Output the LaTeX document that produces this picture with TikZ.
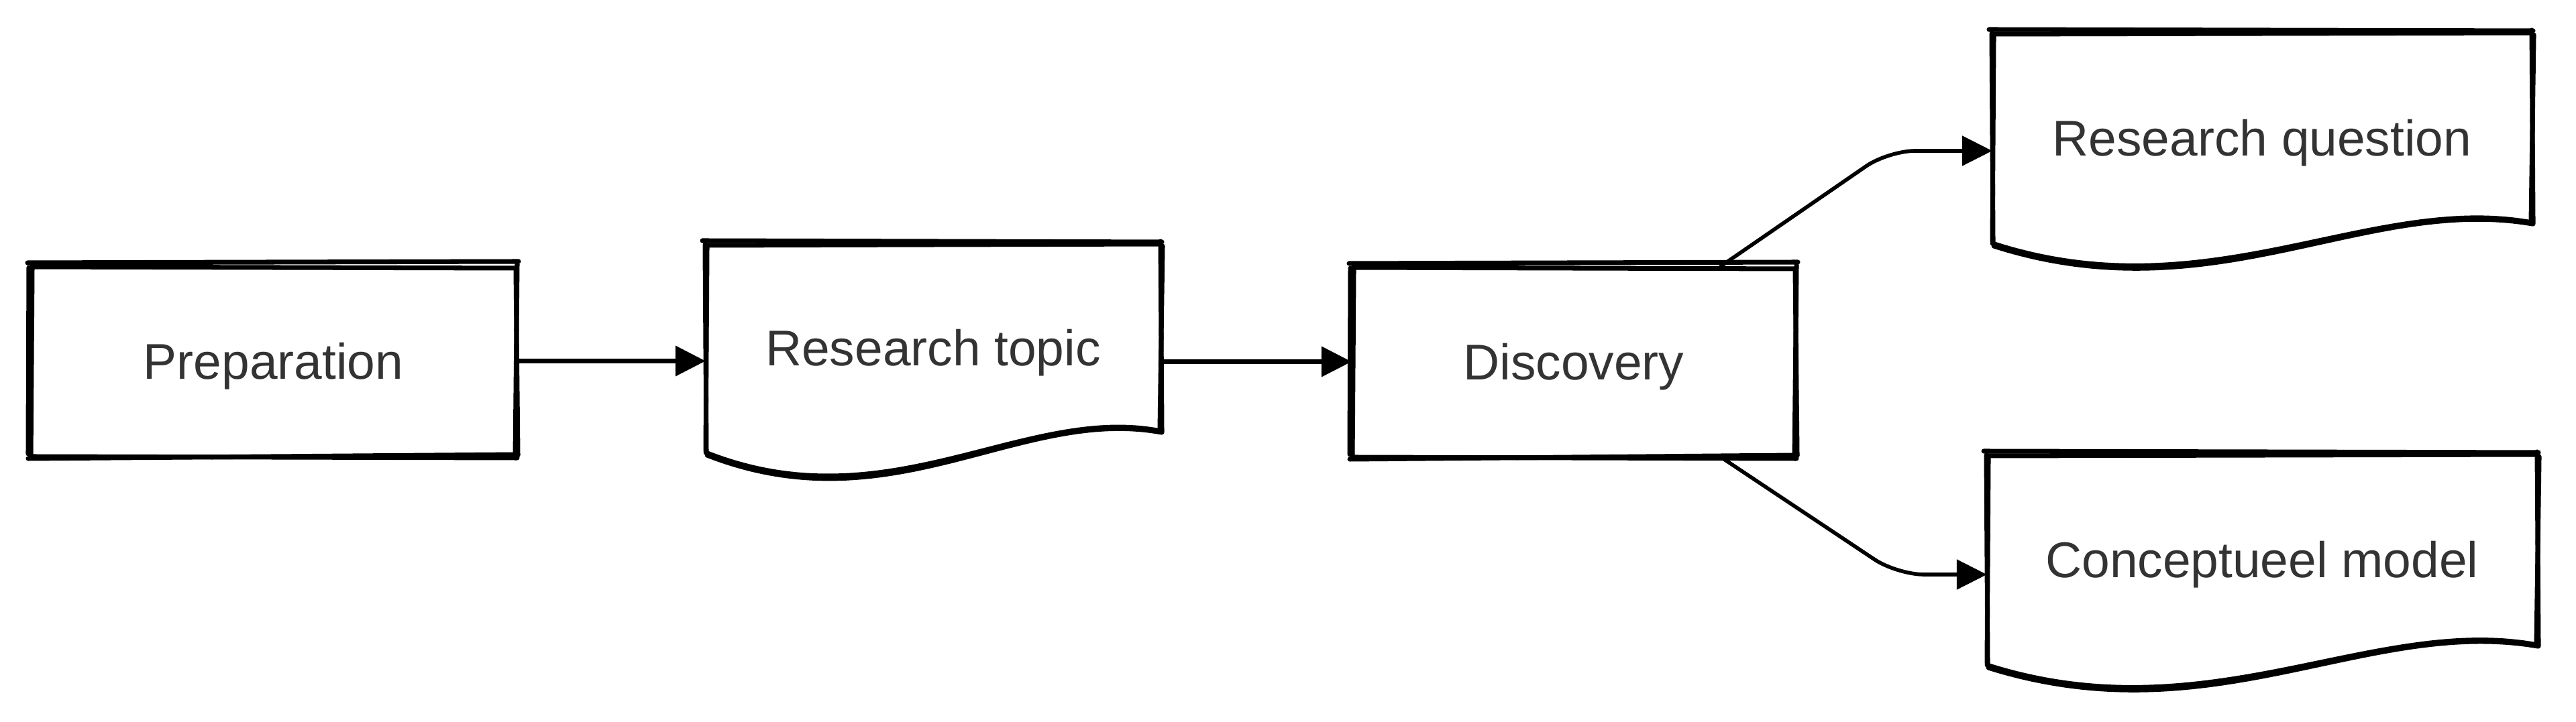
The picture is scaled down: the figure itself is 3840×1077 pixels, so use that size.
\documentclass[tikz,border=0pt]{standalone}
\usepackage{fontspec}
\setmainfont{Liberation Sans}
\usetikzlibrary{arrows.meta,calc}
\definecolor{txt}{HTML}{333333}
\tikzset{
  skl/.style={line width=2pt, line cap=round, line join=round, black},
  lbl/.style={font=\fontsize{21.3}{25}\selectfont, text=txt, inner sep=0pt, outer sep=0pt, draw=none, text height=0.537cm, text depth=0pt},
  conn/.style={line width=1.6pt, black, -{Triangle[length=0.45cm,width=0.44cm]}},
  hconn/.style={conn, line width=2.1pt},
}
% sketchy rectangle: x1 y1 x2 y2 (pixel units)
\newcommand\skrect[4]{%
  \draw[skl] ({#1-4},{#2-5}) -- ({#3+3},{#2-7});
  \draw[skl] ({#1+2},{#2+1}) -- ({#3-1},{#2+3});
  \draw[skl] ({#1-3},{#4+4}) -- ({#3+2},{#4-2});
  \draw[skl] ({#1+1},{#4+1}) -- ({#3+1},{#4+3});
  \draw[skl] ({#1-2},{#2+2}) -- ({#1-3},{#4-3});
  \draw[skl] ({#1+3},{#2+4}) -- ({#1+1},{#4+2});
  \draw[skl] ({#3+1},{#2-3}) -- ({#3-2},{#4+3});
  \draw[skl] ({#3-1},{#2+4}) -- ({#3+2},{#4-1});
}
% sketchy document: x1 ytop x2 yleftend yrightend
\newcommand\skdoc[5]{%
  \draw[skl] ({#1-5},{#2-4}) -- ({#3+2},{#2-2});
  \draw[skl] ({#1+1},{#2+3}) -- ({#3-1},{#2+1});
  \draw[skl] ({#1-1},{#2+2}) -- ({#1+1},{#4});
  \draw[skl] ({#1+2},{#2+5}) -- ({#1},{#4-3});
  \draw[skl] ({#3},{#2-3}) -- ({#3+2},{#5+2});
  \draw[skl] ({#3+3},{#2+4}) -- ({#3-1},{#5-2});
  \draw[skl] (#1,#4) .. controls ({#1+0.4*(#3-#1)},{#2+420}) and ({#1+0.7*(#3-#1)},{#2+240}) .. (#3,#5);
  \draw[skl] ({#1+2},{#4+4}) .. controls ({#1+0.41*(#3-#1)},{#2+424}) and ({#1+0.69*(#3-#1)},{#2+243}) .. ({#3+1},{#5+2});
}
\begin{document}
\begin{tikzpicture}[x=0.01cm,y=-0.01cm]
\useasboundingbox (0,0) rectangle (3840,1077);
\fill[white] (0,0) rectangle (3840,1077);

% text nodes (box extents)
\node[lbl, minimum width=7.25cm, minimum height=2.82cm] (prep) at (407.5,538.5) {Preparation};
\node[lbl, minimum width=6.78cm, minimum height=3.12cm] (rt) at (1391,519) {Research topic};
\node[lbl, minimum width=6.62cm, minimum height=2.83cm] (disc) at (2346,539.5) {Discovery};
\node[lbl, minimum width=8.04cm, minimum height=3.15cm] (rq) at (3372,205.5) {Research question};
\node[lbl, minimum width=8.20cm, minimum height=3.15cm] (cm) at (3372,834.5) {Conceptueel model};

% shapes
\skrect{45}{397}{770}{680}
\skdoc{1052}{363}{1730}{675}{643}
\skrect{2015}{398}{2677}{681}
\skdoc{2970}{48}{3774}{363}{332}
\skdoc{2962}{677}{3782}{992}{962}

% connectors
\draw[hconn] (prep.east) -- (prep.east -| rt.west);
\draw[hconn] (rt.east |- disc.west) -- (disc.west);
\draw[conn, rounded corners=0.4cm] (disc.33) -- (2815,225) -- ([yshift=-0.195cm]rq.west);
\draw[conn, rounded corners=0.4cm] (disc.-33) -- (2828,857) -- ([yshift=-0.225cm]cm.west);
\end{tikzpicture}
\end{document}
